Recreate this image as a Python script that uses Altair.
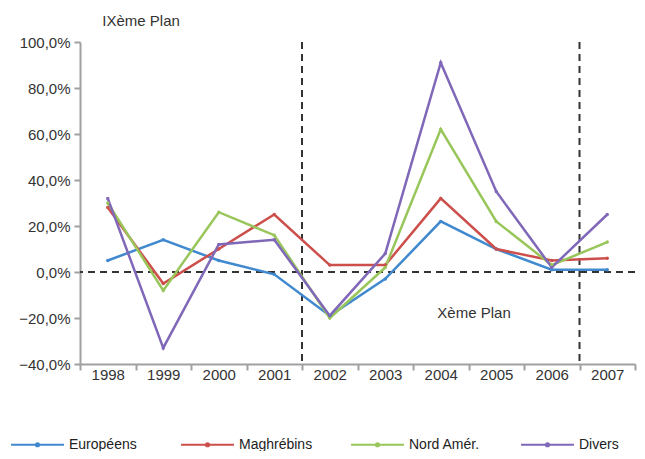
import altair as alt
import pandas as pd

years = ["1998", "1999", "2000", "2001", "2002", "2003", "2004", "2005", "2006", "2007"]
europeens = [5, 14, 5, -1, -19, -3, 22, 10, 1, 1]
maghrebins = [28, -5, 10, 25, 3, 3, 32, 10, 5, 6]
nord_amer = [30, -8, 26, 16, -20, 2, 62, 22, 3, 13]
divers = [32, -33, 12, 14, -19, 8, 91, 35, 2, 25]
series_names = ["Européens", "Maghrébins", "Nord Amér.", "Divers"]
colors = ["#4189CF", "#CC4F4C", "#99C65A", "#8068B8"]

plan_starts = ["2002", "2007"]
annotations = pd.DataFrame({
    "label": ["IXème Plan", "Xème Plan"],
    "year": ["1999", "2005"],
    "value": [109, -18],
})

rows = []
for name, vals in zip(series_names, [europeens, maghrebins, nord_amer, divers]):
    for y, v in zip(years, vals):
        rows.append({"year": y, "value": v, "serie": name})
df = pd.DataFrame(rows)

FONT = "Liberation Sans"

xenc = alt.X("year:O", bandPosition=0.5,
             scale=alt.Scale(type="band", domain=years, paddingInner=0, paddingOuter=0),
             axis=alt.Axis(title=None, labelAngle=0, tickBand="extent", labelAlign="center",
                           labelFontSize=15, labelColor="#333333", domainColor="#A0A0A0",
                           domainWidth=2, tickColor="#A0A0A0", tickWidth=2, tickSize=6,
                           labelPadding=4, grid=False))
yenc = alt.Y("value:Q",
             scale=alt.Scale(domain=[-40, 100], nice=False),
             axis=alt.Axis(title=None, values=[-40, -20, 0, 20, 40, 60, 80, 100],
                           labelExpr="replace(format(datum.value, '.1f'), '.', ',') + '%'",
                           labelFontSize=15, labelColor="#333333", domainColor="#A0A0A0",
                           domainWidth=2, tickColor="#A0A0A0", tickWidth=2, tickSize=6,
                           labelPadding=4, grid=False))

legend_symbol = "M-1,0H1M-0.06,0a0.06,0.06 0 1,0 0.12,0a0.06,0.06 0 1,0 -0.12,0"

lines = alt.Chart(df).mark_line(strokeWidth=2.5, point=alt.OverlayMarkDef(size=12, filled=True)).encode(
    x=xenc,
    y=yenc,
    color=alt.Color("serie:N", sort=series_names,
                    scale=alt.Scale(domain=series_names, range=colors),
                    legend=alt.Legend(title=None, orient="none", direction="horizontal",
                                      legendX=-70, legendY=375, columns=4, gridAlign="all",
                                      symbolType=legend_symbol, symbolSize=2800,
                                      symbolStrokeWidth=2, labelFontSize=14, padding=0,
                                      labelColor="#222222", columnPadding=34, labelOffset=4)),
)

zero = alt.Chart(pd.DataFrame({"v": [0]})).mark_rule(
    color="#333333", strokeDash=[7, 5], strokeWidth=2
).encode(y="v:Q")

vlines = alt.Chart(pd.DataFrame({"year": plan_starts})).mark_rule(
    color="#333333", strokeDash=[7, 5], strokeWidth=2
).encode(x=alt.X("year:O", bandPosition=0))

texts = alt.Chart(annotations).mark_text(fontSize=15, color="#333333", font=FONT).encode(
    x=alt.X("year:O", bandPosition=0.1),
    y="value:Q",
    text="label:N",
)

chart = alt.layer(zero, vlines, lines, texts).properties(
    width=555, height=322,
    autosize=alt.AutoSizeParams(type="none"),
    padding={"left": 72, "top": 34, "right": 2, "bottom": 87},
).configure(font=FONT).configure_view(stroke=None)

chart.save("out.html", embed_options={"renderer": "svg", "actions": False})
